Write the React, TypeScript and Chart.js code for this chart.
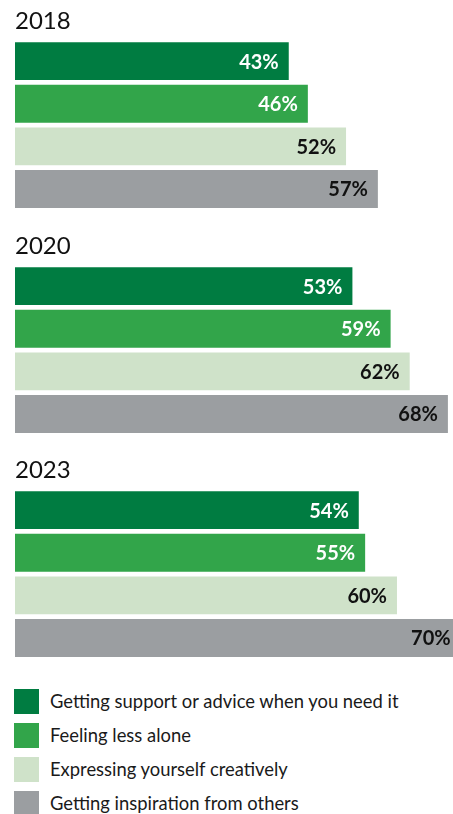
import React, { useEffect, useRef } from "react";
import { Chart, registerables } from "chart.js";

Chart.register(...registerables);

const years = ["2018", "2020", "2023"];
const seriesNames = [
  "Getting support or advice when you need it",
  "Feeling less alone",
  "Expressing yourself creatively",
  "Getting inspiration from others",
];
const supportValues = [43, 53, 54];
const lessAloneValues = [46, 59, 55];
const creativeValues = [52, 62, 60];
const inspirationValues = [57, 68, 70];
const seriesValues = [supportValues, lessAloneValues, creativeValues, inspirationValues];
const seriesColors = ["#007c41", "#32a54a", "#cfe2c9", "#9b9ea1"];
const labelColors = ["#ffffff", "#ffffff", "#111111", "#111111"];

const valueLabelPlugin = {
  id: "valueLabels",
  afterDatasetsDraw(chart: any) {
    const ctx = chart.ctx;
    ctx.save();
    ctx.font = "bold 20px Lato";
    ctx.textAlign = "right";
    ctx.textBaseline = "middle";
    chart.data.datasets.forEach((ds: any, di: number) => {
      const meta = chart.getDatasetMeta(di);
      meta.data.forEach((bar: any, i: number) => {
        ctx.fillStyle = labelColors[di];
        ctx.fillText(ds.data[i] + "%", bar.x - 10, bar.y + 1);
      });
    });
    ctx.restore();
  },
};

function YearChart({ index }: { index: number }) {
  const ref = useRef<HTMLCanvasElement | null>(null);
  useEffect(() => {
    if (!ref.current) return;
    const chart = new Chart(ref.current, {
      type: "bar",
      data: {
        labels: [years[index]],
        datasets: seriesNames.map((name, s) => ({
          label: name,
          data: [seriesValues[s][index]],
          backgroundColor: seriesColors[s],
          borderWidth: 0,
          categoryPercentage: 1,
          barPercentage: 0.89,
        })),
      },
      options: {
        indexAxis: "y",
        animation: false,
        responsive: true,
        maintainAspectRatio: false,
        layout: { padding: { left: 15, right: 0, top: 0, bottom: 13.7 } },
        scales: {
          x: { display: false, min: 0, max: 68.8 },
          y: { display: false },
        },
        plugins: {
          legend: { display: false },
          tooltip: { enabled: false },
          title: {
            display: true,
            text: years[index],
            align: "start",
            color: "#111111",
            font: { family: "Lato", size: 24, weight: "normal" },
            padding: { top: 7, bottom: 4 },
          },
        },
      } as any,
      plugins: [valueLabelPlugin],
    });
    return () => chart.destroy();
  }, [index]);
  return (
    <div style={{ position: "absolute", left: 0, top: index * 224.5, width: 453, height: 224 }}>
      <canvas ref={ref} />
    </div>
  );
}

export default function App() {
  return (
    <div
      style={{
        position: "absolute",
        left: 0,
        top: 0,
        width: 453,
        height: 814,
        overflow: "hidden",
        background: "#ffffff",
      }}
    >
      {years.map((y, i) => (
        <YearChart key={y} index={i} />
      ))}
      <div style={{ position: "absolute", left: 0, top: 689, width: 453 }}>
        {seriesNames.map((n, s) => (
          <div
            key={n}
            style={{
              position: "absolute",
              left: 14,
              top: s * 34,
              height: 25,
              display: "flex",
              alignItems: "center",
            }}
          >
            <span style={{ display: "inline-block", width: 25, height: 25, background: seriesColors[s] }} />
            <span
              style={{
                marginLeft: 11,
                fontFamily: "Lato",
                fontSize: 18.4,
                color: "#1a1a1a",
                whiteSpace: "nowrap",
                lineHeight: "25px",
              }}
            >
              {n}
            </span>
          </div>
        ))}
      </div>
    </div>
  );
}
